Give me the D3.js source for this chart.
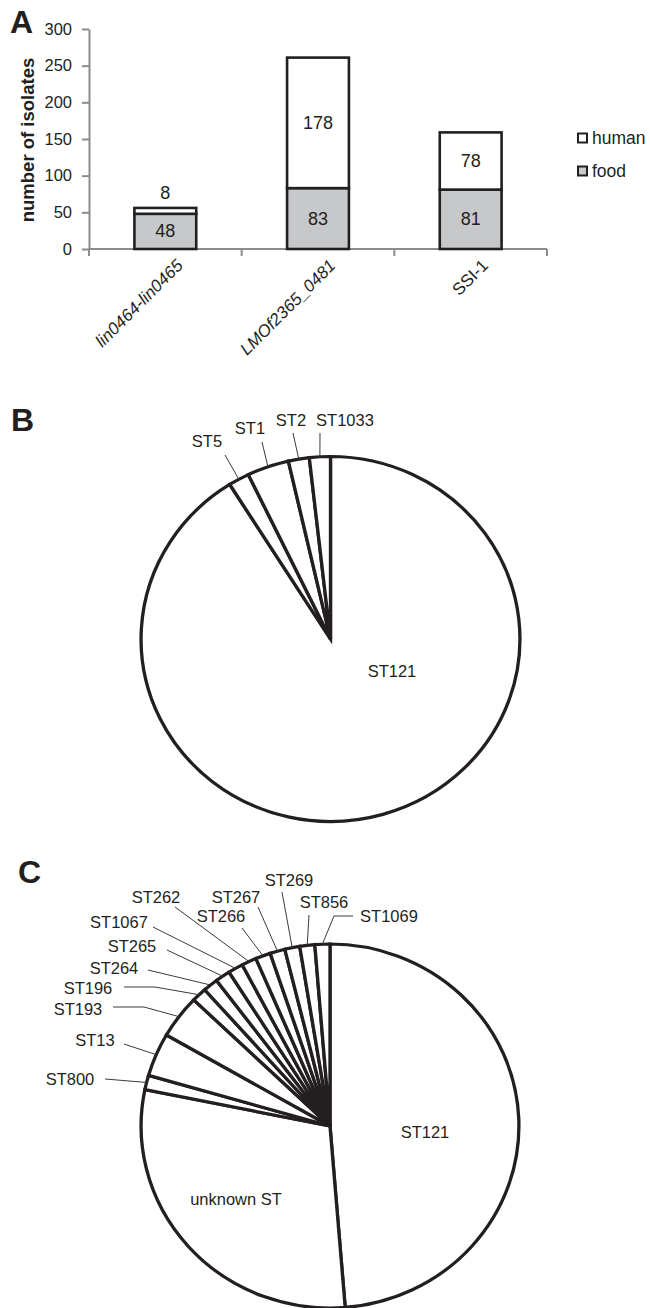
<!DOCTYPE html>
<html>
<head>
<meta charset="utf-8">
<script src="https://cdn.jsdelivr.net/npm/d3@7"></script>
<style>
  body { margin: 0; background: #fff; }
  svg text { font-family: "Liberation Sans", Arial, sans-serif; fill: #231f20; }
</style>
</head>
<body>
<svg id="chart" width="650" height="1308"></svg>
<script>
// ---- Panel A: isolates per marker, split by source ----
const markers = ["lin0464-lin0465", "LMOf2365_0481", "SSI-1"];
const markerItalic = [true, true, false];
const foodCounts = [48, 83, 81];
const humanCounts = [8, 178, 78];
const yTicks = [0, 50, 100, 150, 200, 250, 300];
const sourceKeys = ["food", "human"];
const legendNames = ["human", "food"];

// ---- Panel B: sequence types ----
const stB = ["ST121", "ST5", "ST1", "ST2", "ST1033"];
const countB = [51, 1, 2, 1, 1];

// ---- Panel C: sequence types ----
const stC = ["ST121", "unknown ST", "ST800", "ST13", "ST193", "ST196", "ST264", "ST265",
             "ST1067", "ST262", "ST266", "ST267", "ST269", "ST856", "ST1069"];
const countC = [38, 23, 1, 3, 3, 1, 1, 1, 1, 1, 1, 1, 1, 1, 1];

const INK = "#231f20";
const AXIS = "#8c8c8c";
const FOOD_FILL = "#c7c8c9";
const svg = d3.select("#chart");

// Panel letters
function panelLetter(txt, x, y) {
  svg.append("text").attr("x", x).attr("y", y)
    .attr("font-size", 32).attr("font-weight", "bold").text(txt);
}
panelLetter("A", 10, 33);
panelLetter("B", 11, 431);
panelLetter("C", 18, 883);

// ================= Panel A =================
const plotLeft = 89, plotRight = 547, plotTop = 29, plotBottom = 249;
const y = d3.scaleLinear().domain([0, 300]).range([plotBottom, plotTop]);
const x = d3.scaleBand().domain(markers).range([plotLeft, plotRight]).padding(0);
const barW = x.bandwidth() * 0.405;

const table = markers.map((m, i) => ({ marker: m, food: foodCounts[i], human: humanCounts[i] }));
const stacked = d3.stack().keys(sourceKeys)(table);

const gA = svg.append("g");

// y axis
const yAxis = gA.append("g")
  .attr("transform", `translate(${plotLeft},0)`)
  .call(d3.axisLeft(y).tickValues(yTicks).tickSize(7).tickPadding(10).tickSizeOuter(0));
yAxis.select(".domain").attr("stroke", AXIS).attr("stroke-width", 2);
yAxis.selectAll(".tick line").attr("stroke", AXIS).attr("stroke-width", 2);
yAxis.selectAll(".tick text").attr("font-size", 16.5).attr("fill", INK)
  .attr("font-family", "Liberation Sans, Arial, sans-serif");

// x axis baseline with ticks between categories
const xBoundaries = markers.map(m => x(m)).concat([x(markers[markers.length - 1]) + x.bandwidth()]);
gA.append("line").attr("x1", plotLeft).attr("x2", plotRight)
  .attr("y1", y(0)).attr("y2", y(0)).attr("stroke", AXIS).attr("stroke-width", 2);
gA.selectAll(".xtick").data(xBoundaries).join("line")
  .attr("x1", d => d).attr("x2", d => d)
  .attr("y1", y(0)).attr("y2", y(0) + 7)
  .attr("stroke", AXIS).attr("stroke-width", 2);

// category labels, rotated
gA.selectAll(".xlab").data(markers).join("text")
  .attr("transform", d => `translate(${x(d) + x.bandwidth() / 2 + 10},${y(0) + 9}) rotate(-45)`)
  .attr("text-anchor", "end").attr("dy", "0.71em")
  .attr("font-size", 17)
  .attr("font-style", (d, i) => markerItalic[i] ? "italic" : "normal")
  .text(d => d);

// stacked bars
const fills = { food: FOOD_FILL, human: "#ffffff" };
stacked.forEach(layer => {
  gA.selectAll(null).data(layer).join("rect")
    .attr("x", d => x(d.data.marker) + (x.bandwidth() - barW) / 2)
    .attr("width", barW)
    .attr("y", d => y(d[1]))
    .attr("height", d => y(d[0]) - y(d[1]))
    .attr("fill", fills[layer.key])
    .attr("stroke", INK).attr("stroke-width", 2.6);
});

// value labels
stacked.forEach(layer => {
  gA.selectAll(null).data(layer).join("text")
    .attr("x", d => x(d.data.marker) + x.bandwidth() / 2)
    .attr("y", d => {
      const h = y(d[0]) - y(d[1]);
      return h < 22 ? y(d[1]) - 15 : (y(d[0]) + y(d[1])) / 2;
    })
    .attr("text-anchor", "middle").attr("dominant-baseline", "central")
    .attr("font-size", 18)
    .text(d => d[1] - d[0]);
});

// y axis title
gA.append("text")
  .attr("transform", "translate(27,140) rotate(-90)")
  .attr("text-anchor", "middle").attr("dominant-baseline", "central")
  .attr("font-size", 18.5).attr("font-weight", "bold")
  .text("number of isolates");

// legend
const legend = gA.append("g");
legendNames.forEach((name, i) => {
  const cy = 138 + i * 33;
  legend.append("rect").attr("x", 578).attr("y", cy - 4.5).attr("width", 9).attr("height", 9)
    .attr("fill", name === "food" ? FOOD_FILL : "#fff")
    .attr("stroke", INK).attr("stroke-width", 2);
  legend.append("text").attr("x", 592).attr("y", cy)
    .attr("dominant-baseline", "central").attr("font-size", 17.5).text(name);
});

// ================= Pie helper =================
const X_STRETCH = 1.038;
function drawPie(cx, cy, r, names, counts, labels) {
  const arcs = d3.pie().sort(null).value(d => d)(counts);
  const arc = d3.arc().innerRadius(0).outerRadius(r);
  const g = svg.append("g").attr("transform", `translate(${cx},${cy})`);
  g.append("g").attr("transform", `scale(${X_STRETCH},1)`)
    .selectAll("path").data(arcs).join("path")
    .attr("d", arc)
    .attr("fill", "#fff").attr("stroke", INK).attr("stroke-width", 3.2)
    .attr("stroke-linejoin", "miter");

  // point on the rim at the middle of a slice
  const rim = a => {
    const m = (a.startAngle + a.endAngle) / 2;
    return [cx + X_STRETCH * r * Math.sin(m), cy - r * Math.cos(m)];
  };

  names.forEach((name, i) => {
    const L = labels[name];
    if (!L) return;
    svg.append("text").attr("x", L.at[0]).attr("y", L.at[1])
      .attr("text-anchor", "middle").attr("dominant-baseline", "central")
      .attr("font-size", 16.5).text(name);
    if (L.lead) {
      const pts = L.lead.concat([rim(arcs[i])]);
      svg.append("path").attr("d", d3.line()(pts))
        .attr("fill", "none").attr("stroke", "#3a3a3a").attr("stroke-width", 1);
    }
  });
}

// ================= Panel B =================
drawPie(330.5, 639, 182.5, stB, countB, {
  "ST121":  { at: [392, 671] },
  "ST5":    { at: [207, 441], lead: [[225, 455]] },
  "ST1":    { at: [250, 428], lead: [[262, 442]] },
  "ST2":    { at: [291, 420], lead: [[293, 433]] },
  "ST1033": { at: [345, 420], lead: [[320, 433]] }
});

// ================= Panel C =================
drawPie(330, 1126, 182, stC, countC, {
  "ST121":      { at: [425, 1132] },
  "unknown ST": { at: [236, 1199] },
  "ST800":  { at: [70, 1079],  lead: [[105, 1079]] },
  "ST13":   { at: [95, 1040],  lead: [[124, 1044]] },
  "ST193":  { at: [78, 1009],  lead: [[113, 1007], [144, 1007]] },
  "ST196":  { at: [88, 988],   lead: [[124, 987], [155, 987]] },
  "ST264":  { at: [114, 968],  lead: [[148, 970]] },
  "ST265":  { at: [132, 946],  lead: [[167, 950]] },
  "ST1067": { at: [119, 922],  lead: [[153, 927]] },
  "ST262":  { at: [156, 897],  lead: [[175, 907]] },
  "ST266":  { at: [221, 916],  lead: [[242, 928]] },
  "ST267":  { at: [236, 897],  lead: [[258, 907]] },
  "ST269":  { at: [289, 880],  lead: [[282, 892]] },
  "ST856":  { at: [324, 902],  lead: [[309, 915]] },
  "ST1069": { at: [389, 916],  lead: [[353, 916], [334, 916]] }
});
</script>
</body>
</html>
